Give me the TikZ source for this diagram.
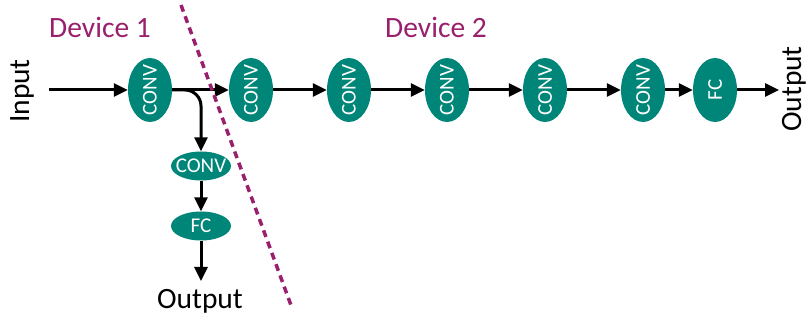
\documentclass[tikz,border=0pt]{standalone}
\usepackage{fontspec}
\setmainfont{Carlito}
\usetikzlibrary{shapes.geometric,arrows.meta}
\definecolor{layer}{RGB}{0,134,120}
\definecolor{split}{RGB}{152,32,108}
% layer names take no room, so the ellipse keeps its own size
\newcommand{\htext}[1]{\makebox[0pt]{#1}}
\newcommand{\vtext}[1]{\rotatebox{90}{\makebox[0pt]{#1}}}
\tikzset{
  layer/.style={ellipse, fill=layer, text=white, inner sep=0pt, font=\fontsize{21}{21}\selectfont},
  vlayer/.style={layer, minimum width=44pt, minimum height=64pt},
  hlayer/.style={layer, minimum width=60pt, minimum height=29pt},
  flow/.style={line width=3pt, -{Triangle[length=14pt,width=13pt]}},
  big/.style={font=\fontsize{29.5}{30}\selectfont}
}
\begin{document}
\begin{tikzpicture}[x=1pt,y=-1pt]
\useasboundingbox (0,0) rectangle (808,320);
% Labels of the two devices
\node[big, text=split] (d1) at (100,27) {Device 1};
\node[big, text=split] (d2) at (436,27) {Device 2};
% Input and the two outputs
\node[big, rotate=90] (in) at (22,91) {Input};
\node[big, rotate=90] (out) at (794,89) {Output};
\node[big] (bout) at (200,301) {Output};
\coordinate (start) at (49,90);
\coordinate (stop) at (779,90);
\coordinate (bend) at (201,281);
% Main chain of layers
\node[vlayer] (c1) at (150,90) {\vtext{CONV}};
\foreach \i/\x in {2/251,3/349,4/447,5/545,6/643}
{
  \node[vlayer] (c\i) at (\x,90) {\vtext{CONV}};
}
\node[vlayer] (f1) at (715,90) {\vtext{FC}};
% Early exit branch of device 1
\node[hlayer] (b1) at (201,166) {\htext{CONV}};
\node[hlayer] (b2) at (201,226) {\htext{FC}};
% Arrows along the main chain
\draw[flow] (start) -- (c1);
\draw[flow] (c1) -- (c2);
\foreach \i [evaluate=\i as \j using int(\i+1)] in {2,...,5}
{
  \draw[flow] (c\i) -- (c\j);
}
\draw[flow] (c6) -- (f1);
\draw[flow] (f1) -- (stop);
% Arrows of the branch
\draw[flow, rounded corners=16pt] (c1.east) -| (b1.north);
\draw[flow] (b1) -- (b2);
\draw[flow] (b2) -- (bend);
% Split between the devices
\draw[split, line width=3.5pt, dash pattern=on 7pt off 5pt] (181,5) -- (292,308);
\end{tikzpicture}
\end{document}
